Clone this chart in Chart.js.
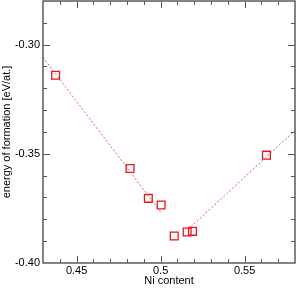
<!DOCTYPE html>
<html>
<head>
<meta charset="utf-8">
<script src="https://cdn.jsdelivr.net/npm/chart.js@4"></script>
<style>
  html, body { margin: 0; padding: 0; background: #fff; }
  #wrap { width: 297px; height: 288px; }
</style>
</head>
<body>
<div id="wrap"><canvas id="chart" width="297" height="288"></canvas></div>
<script>
// Ni content vs energy of formation
const niContent = [0.4375, 0.4818, 0.4927, 0.5003, 0.5081, 0.5158, 0.5190, 0.5630];
const formationEnergy = [-0.3140, -0.3567, -0.3704, -0.3734, -0.3876, -0.3858, -0.3855, -0.3506];

// dashed fit lines (end points)
const leftFitX = [0.43, 0.50];
const leftFitY = [-0.3058, -0.3766];
const rightFitX = [0.5164, 0.58];
const rightFitY = [-0.3846, -0.3393];

const xTicks = [0.45, 0.50, 0.55];
const xTickLabels = ['0.45', '0.5', '0.55'];
const yTicks = [-0.40, -0.35, -0.30];
const yTickLabels = ['-0.40', '-0.35', '-0.30'];
const xMinorStep = 0.01;
const yMinorStep = 0.01;

const toPoints = (xs, ys) => xs.map((x, i) => ({ x: x, y: ys[i] }));

// frame and inward ticks, drawn via the chart scales
const framePlugin = {
    id: 'frame',
    afterDraw(chart) {
        const ctx = chart.ctx;
        const a = chart.chartArea;
        const xs = chart.scales.x;
        const ys = chart.scales.y;
        ctx.save();
        ctx.strokeStyle = '#333';
        ctx.lineWidth = 1.2;
        ctx.strokeRect(a.left, a.top, a.right - a.left, a.bottom - a.top);

        ctx.lineWidth = 1;
        ctx.strokeStyle = '#555';
        const drawX = (v, len) => {
            const px = Math.round(xs.getPixelForValue(v)) + 0.5;
            ctx.beginPath();
            ctx.moveTo(px, a.bottom); ctx.lineTo(px, a.bottom - len);
            ctx.moveTo(px, a.top); ctx.lineTo(px, a.top + len);
            ctx.stroke();
        };
        const drawY = (v, len) => {
            const py = Math.round(ys.getPixelForValue(v)) + 0.5;
            ctx.beginPath();
            ctx.moveTo(a.left, py); ctx.lineTo(a.left + len, py);
            ctx.moveTo(a.right, py); ctx.lineTo(a.right - len, py);
            ctx.stroke();
        };
        for (let v = xs.min + xMinorStep; v < xs.max - 1e-9; v += xMinorStep) {
            const isMajor = xTicks.some(t => Math.abs(t - v) < 1e-6);
            drawX(v, isMajor ? 7 : 4);
        }
        for (let v = ys.min + yMinorStep; v < ys.max - 1e-9; v += yMinorStep) {
            const isMajor = yTicks.some(t => Math.abs(t - v) < 1e-6);
            drawY(v, isMajor ? 7 : 4);
        }
        ctx.restore();
    }
};

const ctx = document.getElementById('chart').getContext('2d');
new Chart(ctx, {
    type: 'scatter',
    data: {
        datasets: [
            {
                data: toPoints(leftFitX, leftFitY),
                showLine: true,
                borderColor: 'rgba(240, 60, 60, 0.85)',
                borderWidth: 1,
                borderDash: [2, 2],
                pointRadius: 0
            },
            {
                data: toPoints(rightFitX, rightFitY),
                showLine: true,
                borderColor: 'rgba(240, 60, 60, 0.85)',
                borderWidth: 1,
                borderDash: [2, 2],
                pointRadius: 0
            },
            {
                data: toPoints(niContent, formationEnergy),
                pointStyle: 'rect',
                pointRadius: 5.5,
                pointBorderWidth: 1.3,
                pointBorderColor: '#e8141b',
                pointBackgroundColor: 'rgba(255,255,255,0)'
            }
        ]
    },
    options: {
        responsive: false,
        animation: false,
        layout: { autoPadding: false, padding: { top: 1, right: 2, left: 0, bottom: 0 } },
        plugins: {
            legend: { display: false },
            tooltip: { enabled: false }
        },
        scales: {
            x: {
                type: 'linear',
                min: 0.43,
                max: 0.58,
                afterBuildTicks: s => { s.ticks = xTicks.map(v => ({ value: v })); },
                afterFit: s => { s.height = 25; s.paddingLeft = 0; s.paddingRight = 0; },
                grid: { display: false, drawTicks: false },
                border: { display: false },
                ticks: {
                    color: '#000',
                    font: { family: 'Liberation Sans', size: 11 },
                    padding: 1,
                    maxRotation: 0,
                    callback: (v, i) => xTickLabels[i]
                },
                title: {
                    display: true,
                    text: 'Ni content',
                    color: '#000',
                    font: { family: 'Liberation Sans', size: 11 },
                    padding: { top: -2, bottom: 0 }
                }
            },
            y: {
                type: 'linear',
                min: -0.40,
                max: -0.28,
                afterBuildTicks: s => { s.ticks = yTicks.map(v => ({ value: v })); },
                afterFit: s => { s.width = 43; s.paddingTop = 0; s.paddingBottom = 0; },
                grid: { display: false, drawTicks: false },
                border: { display: false },
                ticks: {
                    color: '#000',
                    font: { family: 'Liberation Sans', size: 11 },
                    padding: 3,
                    callback: (v, i) => yTickLabels[i]
                },
                title: {
                    display: true,
                    text: 'energy of formation [eV/at.]',
                    color: '#000',
                    font: { family: 'Liberation Sans', size: 11 },
                    padding: { top: 0, bottom: 0 }
                }
            }
        }
    },
    plugins: [framePlugin]
});
</script>
</body>
</html>
